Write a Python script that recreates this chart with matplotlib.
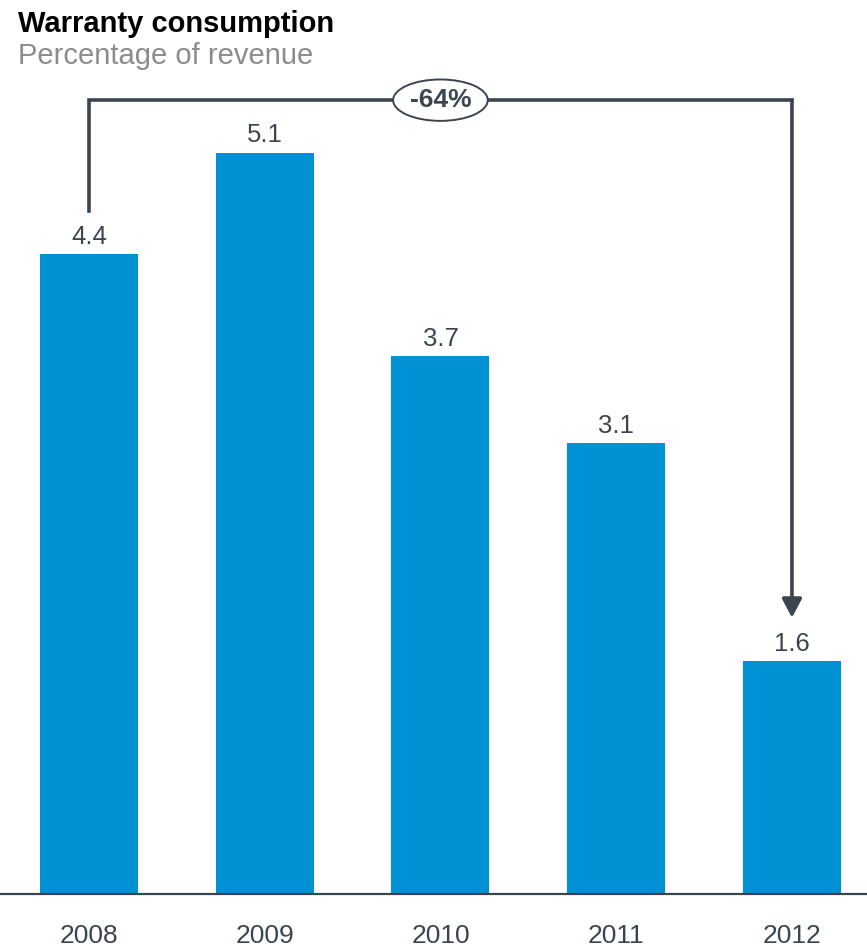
import matplotlib
matplotlib.use("Agg")
import matplotlib.pyplot as plt

plt.rcParams["font.family"] = ["Liberation Sans", "DejaVu Sans"]

years = ["2008", "2009", "2010", "2011", "2012"]
values = [4.4, 5.1, 3.7, 3.1, 1.6]
change_label = "-64%"

BAR = "#0091D5"
INK = "#3B4550"
SUB = "#8C8C8C"

fig = plt.figure(figsize=(8.67, 9.47), dpi=100)
ax = fig.add_axes([0, 53 / 947, 1, 894 / 947])

x = list(range(len(years)))
ax.bar(x, values, width=0.558, color=BAR, zorder=2)
ax.set_xlim(-0.506, 4.427)
ax.set_ylim(0, 6.149)
ax.axis("off")

# baseline
ax.plot([0, 1], [0, 0], transform=ax.transAxes, color=INK, lw=1.6,
        clip_on=False, zorder=3)

for xi, v in zip(x, values):
    ax.annotate(f"{v:.1f}", xy=(xi, v), xytext=(0, 7.5),
                textcoords="offset points", ha="center", va="baseline",
                fontsize=18.5, color=INK)

for xi, yr in zip(x, years):
    ax.annotate(yr, xy=(xi, 0), xytext=(0, -35.5), textcoords="offset points",
                ha="center", va="baseline", fontsize=19, color=INK,
                annotation_clip=False)

# change bracket from first to last year
y_top = max(values) + 0.36
y_start = values[0] + 0.3
y_end = values[-1] + 0.3
ax.plot([x[0], x[0], x[-1]], [y_start, y_top, y_top], color=INK, lw=2.6,
        solid_joinstyle="miter", zorder=3)
ax.annotate("", xy=(x[-1], y_end), xytext=(x[-1], y_top),
            arrowprops=dict(arrowstyle="-|>,head_length=0.95,head_width=0.5",
                            mutation_scale=12, color=INK, lw=2.6,
                            shrinkA=0, shrinkB=0), zorder=3)
ax.text((x[0] + x[-1]) / 2, y_top, change_label, ha="center", va="center",
        fontsize=19, fontweight="bold", color=INK, zorder=4,
        bbox=dict(boxstyle="ellipse,pad=0.1", fc="white", ec=INK, lw=1.4))

fig.text(18 / 867, 1 - 32 / 947, "Warranty consumption", fontsize=21,
         fontweight="bold", color="black", va="baseline")
fig.text(18 / 867, 1 - 64 / 947, "Percentage of revenue", fontsize=21,
         color=SUB, va="baseline")

fig.savefig("out.png", dpi=100)
